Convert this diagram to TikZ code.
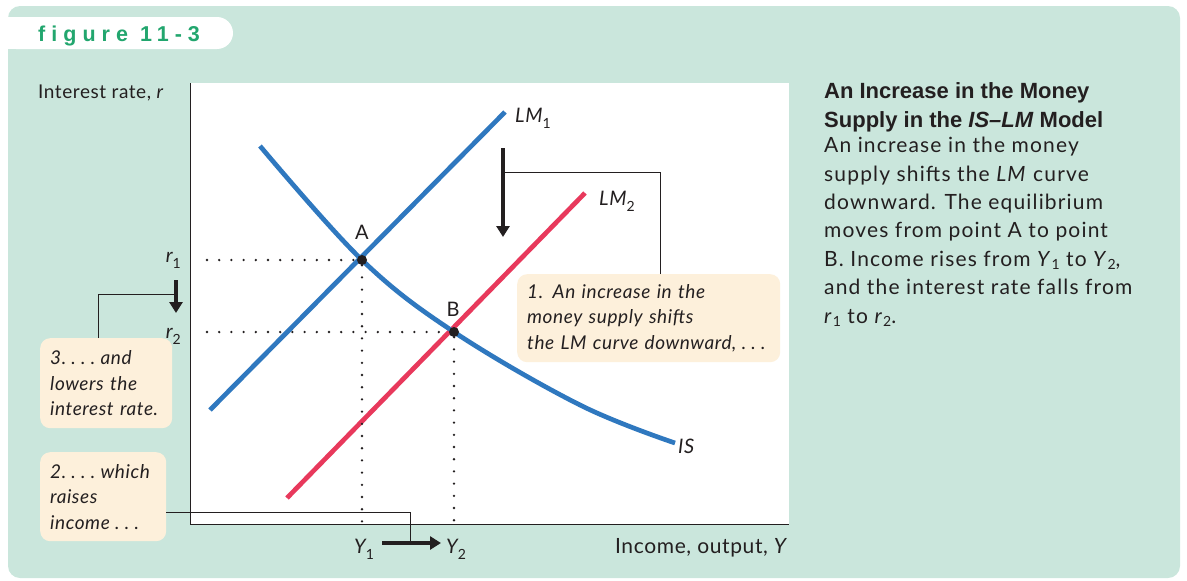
\documentclass[tikz,border=0pt]{standalone}
\usepackage{fontspec}
\setmainfont[LetterSpace=3]{Lato}
\newfontfamily\headfont{Liberation Sans}
\newfontfamily\tabfont[LetterSpace=28]{Liberation Sans}
\usetikzlibrary{arrows.meta,calc}
\definecolor{bgmint}{HTML}{CAE6DC}
\definecolor{lmblue}{HTML}{2F78BF}
\definecolor{lmred}{HTML}{E8395C}
\definecolor{notefill}{HTML}{FDF0DB}
\definecolor{tabgreen}{HTML}{22A66E}
\definecolor{ink}{HTML}{231F20}
\tikzset{
  crv/.style={line width=4.7pt},
  dots/.style={line width=2.6pt,line cap=round,dash pattern=on 0pt off 12.2pt},
  mv/.style={line width=4.5pt,-{Triangle[length=11pt,width=13pt]}},
  lead/.style={line width=0.9pt},
  note/.style={fill=notefill,rounded corners=10pt,anchor=north west,align=left,inner xsep=10pt,inner ysep=0pt,
    font=\fontsize{19}{25.5}\selectfont\itshape},
  lbl/.style={font=\fontsize{20}{20}\selectfont\itshape,inner sep=0pt},
  eq/.style={circle,fill=ink,inner sep=0pt,minimum size=10pt}
}
\newcommand{\sub}[2][6pt]{\raisebox{-#1}{\fontsize{14}{14}\selectfont\upshape#2}}
\newcommand{\tdots}{.\;.\;.}

\begin{document}
\begin{tikzpicture}[x=1pt,y=-1pt,color=ink]
\useasboundingbox (0,0) rectangle (1187,581);
\fill[bgmint,rounded corners=12pt] (8,6) rectangle (1180,578);
\fill[white,rounded corners=16pt] (0,17) rectangle (233,49);
\fill[white] (0,17) rectangle (100,49);
\node[font=\tabfont\bfseries\fontsize{21.5}{21.5}\selectfont,text=tabgreen,anchor=base west,inner sep=0pt] (tab) at (38,41) {figure 11-3};
% plot area
\coordinate (o) at (190,524);
\coordinate (ytop) at (190,83);
\coordinate (xend) at (789,524);
\fill[white] (ytop) rectangle (xend);
\draw[lead] (ytop) -- (o) -- (xend);
\node[anchor=base west,inner sep=0pt,font=\fontsize{19}{19}\selectfont] (rlab) at (38,98) {Interest rate, \textit{r}};
\node[anchor=base east,inner sep=0pt,font=\fontsize{21}{21}\selectfont] (ylab) at (788,553) {Income, output, \textit{Y}};
% curves
\draw[crv,lmblue] (210,410) -- (505,112);
\draw[crv,lmred] (287,498) -- (585,193);
\draw[crv,lmblue] plot[smooth,tension=0.6] coordinates {(260,146) (362,260) (454,332) (580,405) (675,443)};
\node[eq] (A) at (362,260) {};
\node[eq] (B) at (454,332) {};
\draw[dots] (207,260) -- (A);
\draw[dots] (207,332) -- (B);
\draw[dots] (A) -- (A |- o);
\draw[dots] (B) -- (B |- o);
\node[font=\fontsize{20}{20}\selectfont] (Alab) at (362,232) {A};
\node[font=\fontsize{20}{20}\selectfont] (Blab) at (453,309) {B};
\node[lbl,anchor=base west] (lm1) at (515,122) {LM\sub{1}};
\node[lbl,anchor=base west] (lm2) at (599,205) {LM\sub{2}};
\node[lbl,anchor=base west] (is) at (678,453) {IS};
\node[lbl,anchor=base east] (r1) at (181,262) {r\sub{1}};
\node[lbl,anchor=base east] (r2) at (181,338) {r\sub{2}};
\node[lbl,anchor=base west] (y1) at (354,553) {Y\sub{1}};
\node[lbl,anchor=base west] (y2) at (446,553) {Y\sub{2}};
% shifts
\coordinate (rs) at (176,280); \coordinate (re) at (176,313);
\coordinate (ys) at (382,543); \coordinate (ye) at (441,543);
\coordinate (ls) at (503,148); \coordinate (le) at (503,237);
\draw[mv] (rs) -- (re);
\draw[mv] (ys) -- (ye);
\draw[mv] (ls) -- (le);
% notes
\node[note,minimum width=263pt,minimum height=88pt,text width=243pt] (n1) at (517,274)
  {1. An increase in the\\money supply shifts\\the LM curve downward,\;\tdots};
\node[note,minimum width=132pt,minimum height=90pt,text width=112pt] (n3) at (40,338)
  {3.\;\tdots\;and\\lowers the\\interest rate.};
\node[note,minimum width=126pt,minimum height=89pt,text width=106pt] (n2) at (40,452)
  {2.\;\tdots\;which\\raises\\income\;\tdots};
\draw[lead] ([xshift=-8pt]n3.north) |- ($(rs)!0.45!(re)$);
\draw[lead] ([xshift=11.5pt]n1.north) |- ($(ls)!0.27!(le)$);
\draw[lead] ([yshift=-15.5pt]n2.east) -| ($(ys)!0.49!(ye)$);
% caption
\node[anchor=north west,align=left,inner sep=0pt,font=\headfont\bfseries\fontsize{22}{29}\selectfont] (ttl) at (824,82)
  {An Increase in the Money\\Supply in the \textit{IS–LM} Model};
\node[anchor=north west,align=left,inner sep=0pt,font=\addfontfeature{LetterSpace=5.5}\fontsize{21}{28.4}\selectfont] (cap) at (824,137)
  {An increase in the money\\supply shifts the \textit{LM} curve\\downward. The equilibrium\\moves from point A to point\\
   B. Income rises from \textit{Y}\sub[3pt]{1} to \textit{Y}\sub[3pt]{2},\\and the interest rate falls from\\
   \textit{r}\sub[3pt]{1} to \textit{r}\sub[3pt]{2}.};
\end{tikzpicture}
\end{document}
